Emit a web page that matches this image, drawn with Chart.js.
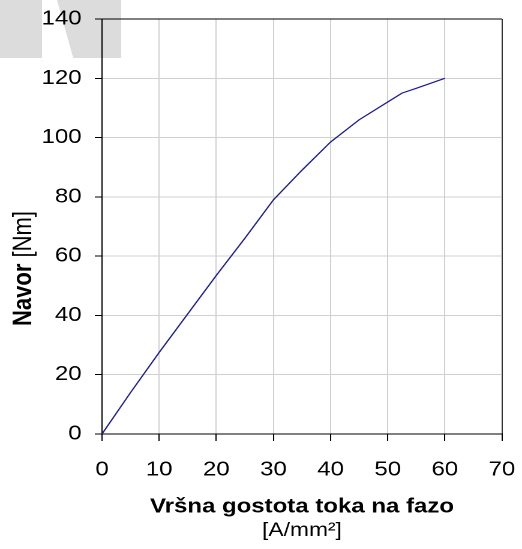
<!DOCTYPE html>
<html lang="sl">

<head>
    <meta charset="UTF-8">
    <title>Navor</title>
    <script src="https://cdn.jsdelivr.net/npm/chart.js"></script>
    <style>
        body {
            margin: 0;
            background: #fff;
        }

        /* original chart is stretched sideways, so the whole canvas is too */
        #wrap {
            width: 435px;
            height: 549px;
            transform: scaleX(1.2);
            transform-origin: 0 0;
        }
    </style>
</head>

<body>
    <div id="wrap"><canvas id="chart" width="435" height="549"></canvas></div>

    <script>
        // gostota toka [A/mm2] in navor [Nm]
        const current = [0, 5, 10, 15, 20, 25, 30, 35, 40, 45, 50, 52.5, 55, 60];
        const torque = [0, 14, 27.5, 40.5, 53.5, 66, 79, 89, 98.5, 106, 112, 115, 116.6, 120];

        const xTicks = [0, 10, 20, 30, 40, 50, 60, 70];
        const yTicks = [0, 20, 40, 60, 80, 100, 120, 140];

        const xTitle = 'Vršna gostota toka na fazo';
        const xUnit = '[A/mm²]';
        const yTitle = 'Navor';
        const yUnit = ' [Nm]';

        const FONT = '"Liberation Sans", Arial, sans-serif';

        // light grey logo in the corner
        const logo = {
            id: 'logo',
            beforeDraw(chart) {
                const c = chart.ctx;
                c.save();
                c.fillStyle = '#dcdcdc';
                c.fillRect(0, 0, 35, 58);
                c.beginPath();
                c.moveTo(47.5, 0);
                c.lineTo(101, 0);
                c.lineTo(101, 58);
                c.lineTo(61, 58);
                c.closePath();
                c.fill();
                c.restore();
            }
        };

        // y title: bold name + normal unit
        const yLabel = {
            id: 'yLabel',
            afterDraw(chart) {
                const c = chart.ctx;
                const a = chart.chartArea;
                c.save();
                c.translate(20, (a.top + a.bottom) / 2 + 42);
                c.rotate(-Math.PI / 2);
                c.fillStyle = '#000';
                c.textBaseline = 'middle';
                c.textAlign = 'left';
                c.font = 'bold 22px ' + FONT;
                const w1 = c.measureText(yTitle).width;
                c.font = '22px ' + FONT;
                const w2 = c.measureText(yUnit).width;
                let x = -(w1 + w2) / 2;
                c.font = 'bold 22px ' + FONT;
                c.fillText(yTitle, x, 0);
                c.font = '22px ' + FONT;
                c.fillText(yUnit, x + w1, 0);
                c.restore();
            }
        };

        const points = current.map((v, i) => ({ x: v, y: torque[i] }));

        new Chart(document.getElementById('chart'), {
            type: 'line',
            data: {
                datasets: [{
                    data: points,
                    borderColor: '#1c1c96',
                    borderWidth: 1.2,
                    pointRadius: 0,
                    tension: 0,
                    fill: false
                }]
            },
            options: {
                responsive: false,
                animation: false,
                devicePixelRatio: 2,
                layout: { padding: { top: 19, right: 16.7, bottom: 0, left: 0 } },
                plugins: {
                    legend: { display: false },
                    tooltip: { enabled: false }
                },
                scales: {
                    x: {
                        type: 'linear',
                        position: 'bottom',
                        min: xTicks[0],
                        max: xTicks[xTicks.length - 1],
                        weight: 0,
                        afterBuildTicks: (s) => { s.ticks = xTicks.map(v => ({ value: v })); },
                        afterFit: (s) => {
                            s.height = 85;
                            s.paddingLeft = 0;
                            s.paddingRight = 0;
                        },
                        grid: {
                            color: (ctx) => ctx.tick && ctx.tick.value === 70 ? '#333' : '#d0d0d0',
                            tickColor: '#000',
                            tickLength: 7
                        },
                        border: { color: '#000', width: 1 },
                        ticks: {
                            color: '#000',
                            padding: 17,
                            maxRotation: 0,
                            font: { family: FONT, size: 20 }
                        },
                        title: {
                            display: true,
                            text: xTitle,
                            color: '#000',
                            padding: { top: 0, bottom: 0 },
                            font: { family: FONT, size: 20, weight: 'bold' }
                        }
                    },
                    x2: {
                        type: 'linear',
                        position: 'bottom',
                        min: 0,
                        max: 70,
                        weight: 1,
                        afterFit: (s) => {
                            s.height = 30;
                            s.paddingLeft = 0;
                            s.paddingRight = 0;
                        },
                        grid: { display: false },
                        border: { display: false },
                        ticks: { display: false },
                        title: {
                            display: true,
                            text: xUnit,
                            color: '#000',
                            padding: { top: 0, bottom: 7 },
                            font: { family: FONT, size: 19 }
                        }
                    },
                    y: {
                        type: 'linear',
                        min: yTicks[0],
                        max: yTicks[yTicks.length - 1],
                        afterBuildTicks: (s) => { s.ticks = yTicks.map(v => ({ value: v })); },
                        afterFit: (s) => {
                            s.width = 85;
                            s.paddingTop = 0;
                            s.paddingBottom = 0;
                        },
                        grid: {
                            color: (ctx) => ctx.tick && ctx.tick.value === 140 ? '#000' : '#d0d0d0',
                            tickColor: '#000',
                            tickLength: 6
                        },
                        border: { color: '#000', width: 1 },
                        ticks: {
                            color: '#000',
                            padding: 11,
                            font: { family: FONT, size: 20 }
                        }
                    }
                }
            },
            plugins: [logo, yLabel]
        });
    </script>

</body>

</html>
